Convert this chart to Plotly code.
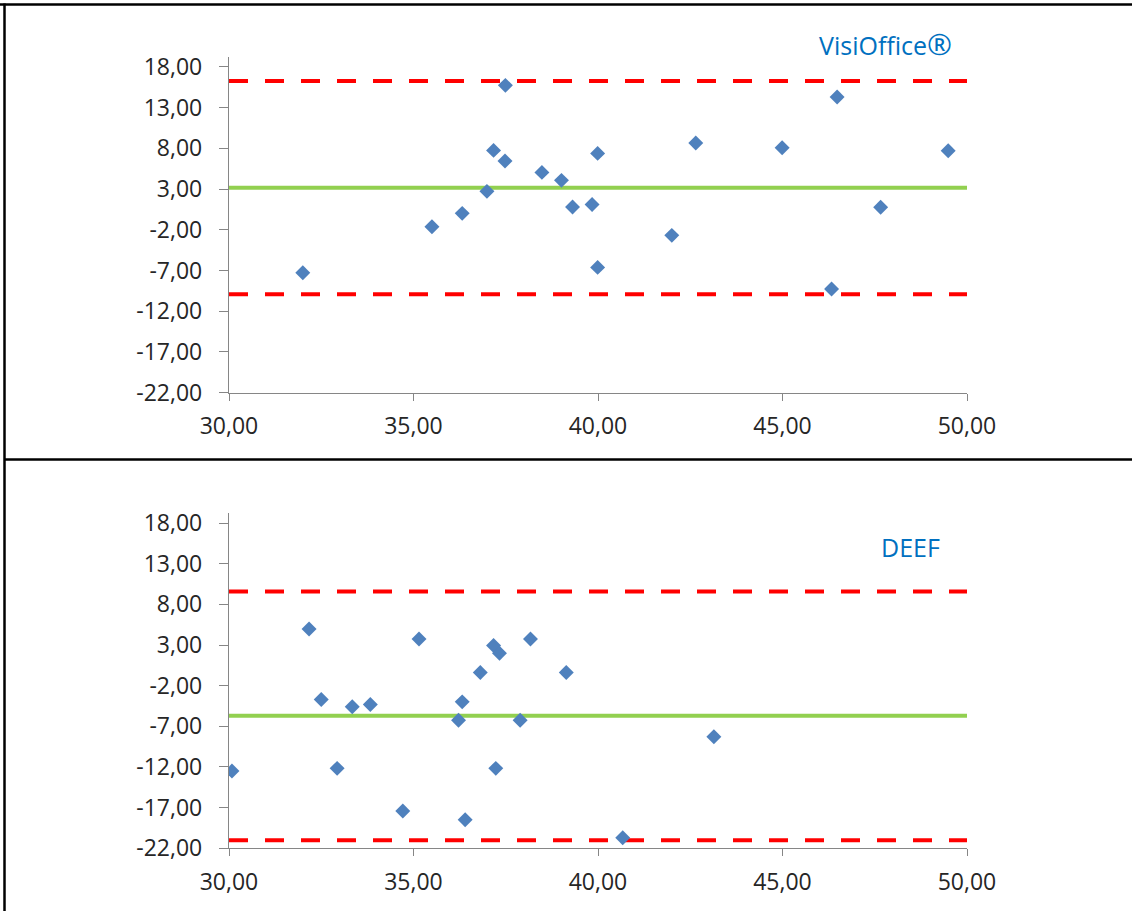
import plotly.graph_objects as go

# ---- data ----
top_x = [32.0, 35.5, 36.32, 36.99, 37.17, 37.48, 37.49, 38.48, 39.01, 39.31,
         39.84, 39.99, 39.99, 42.0, 42.65, 44.99, 46.33, 46.48, 47.66, 49.49]
top_y = [-7.28, -1.63, 0.01, 2.71, 7.74, 6.43, 15.72, 5.04, 4.06, 0.79,
         1.11, 7.37, -6.62, -2.69, 8.64, 8.06, -9.28, 14.28, 0.75, 7.69]
top_mean = 3.15
top_upper = 16.25
top_lower = -9.93

bot_x = [30.08, 32.17, 32.50, 32.93, 33.34, 33.83, 34.71, 35.15, 36.22, 36.32,
         36.40, 36.81, 37.17, 37.23, 37.33, 37.89, 38.17, 39.14, 40.67, 43.14]
bot_y = [-12.5, 4.98, -3.7, -12.17, -4.6, -4.31, -17.42, 3.75, -6.24, -3.99,
         -18.49, -0.38, 2.94, -12.17, 1.99, -6.24, 3.75, -0.38, -20.7, -8.29]
bot_mean = -5.71
bot_upper = 9.57
bot_lower = -21.02

x_range = [30, 50]
y_range = [-22, 19.2]
x_ticks = [30, 35, 40, 45, 50]
x_tick_labels = ["30,00", "35,00", "40,00", "45,00", "50,00"]
y_ticks = [-22, -17, -12, -7, -2, 3, 8, 13, 18]
y_tick_labels = ["-22,00", "-17,00", "-12,00", "-7,00", "-2,00", "3,00", "8,00", "13,00", "18,00"]

titles = ["VisiOffice<span style='font-size:30px'>®</span>", "DEEF"]

# ---- styles ----
W, H = 1132, 911
FONT = "Open Sans"
MARKER = "#4F81BD"
GREEN = "#92D050"
RED = "#FF0000"
AXIS = "#868686"
TITLE_C = "#0070C0"

def py(p):
    return 1 - p / H

def px(p):
    return p / W

fig = go.Figure()

panels = [
    (top_x, top_y, top_mean, top_upper, top_lower, "x", "y"),
    (bot_x, bot_y, bot_mean, bot_upper, bot_lower, "x2", "y2"),
]
for xs, ys, m, up, lo, xa, ya in panels:
    for val, col, dash in [(up, RED, "19px,17px"), (lo, RED, "19px,17px"), (m, GREEN, "solid")]:
        fig.add_trace(go.Scatter(
            x=x_range, y=[val, val], mode="lines",
            line=dict(color=col, width=4, dash=dash),
            xaxis=xa, yaxis=ya, hoverinfo="skip", showlegend=False))
    fig.add_trace(go.Scatter(
        x=xs, y=ys, mode="markers",
        marker=dict(symbol="diamond", size=11.5, color=MARKER, line=dict(width=0)),
        xaxis=xa, yaxis=ya, showlegend=False))

xdom = [px(229), px(967)]
ydom_top = [py(392.7), py(57)]
ydom_bot = [py(848.3), py(513.3)]

def xaxis(anchor):
    return dict(domain=xdom, range=x_range, anchor=anchor, automargin=False,
                tickvals=x_ticks, ticktext=x_tick_labels,
                showline=True, linecolor=AXIS, linewidth=1.3,
                ticks="outside", ticklen=7, tickcolor=AXIS, tickwidth=1.3,
                showgrid=False, zeroline=False, ticklabelstandoff=6,
                tickfont=dict(family=FONT, size=23, color="#262626"))

def yaxis(dom, anchor):
    return dict(domain=dom, range=y_range, anchor=anchor, automargin=False,
                tickvals=y_ticks, ticktext=y_tick_labels,
                showline=True, linecolor=AXIS, linewidth=1.3,
                ticks="outside", ticklen=9, tickcolor=AXIS, tickwidth=1.3,
                showgrid=False, zeroline=False, ticklabelstandoff=12,
                tickfont=dict(family=FONT, size=23, color="#262626"))

fig.update_layout(
    width=W, height=H,
    margin=dict(l=0, r=0, t=0, b=0, pad=0, autoexpand=False),
    paper_bgcolor="white", plot_bgcolor="white",
    showlegend=False,
    xaxis=xaxis("y"), yaxis=yaxis(ydom_top, "x"),
    xaxis2=xaxis("y2"), yaxis2=yaxis(ydom_bot, "x2"),
    annotations=[
        dict(text=titles[0], x=px(885), y=py(43), xref="paper", yref="paper",
             showarrow=False, xanchor="center", yanchor="middle",
             font=dict(family=FONT, size=25, color=TITLE_C)),
        dict(text=titles[1], x=px(910), y=py(547), xref="paper", yref="paper",
             showarrow=False, xanchor="center", yanchor="middle",
             font=dict(family=FONT, size=25, color=TITLE_C)),
    ],
    shapes=[
        dict(type="line", xref="paper", yref="paper", x0=0, x1=1, y0=py(4.5), y1=py(4.5),
             line=dict(color="black", width=2.5)),
        dict(type="line", xref="paper", yref="paper", x0=px(4.5), x1=1, y0=py(459.5), y1=py(459.5),
             line=dict(color="black", width=2.5)),
        dict(type="line", xref="paper", yref="paper", x0=px(4.5), x1=px(4.5), y0=0, y1=py(3.5),
             line=dict(color="black", width=2.5)),
    ],
)

fig.write_html("out.html")
